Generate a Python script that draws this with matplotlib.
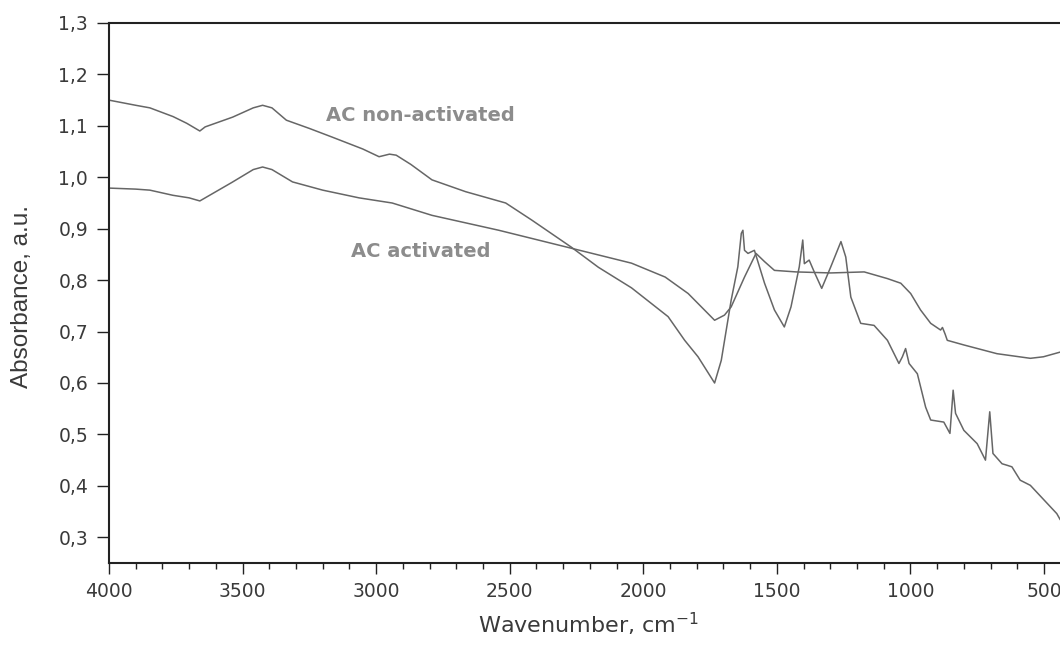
import numpy as np
import matplotlib
matplotlib.use("Agg")
import matplotlib.pyplot as plt
from matplotlib.ticker import MultipleLocator, FuncFormatter

# FTIR spectra of activated carbon, wavenumber (cm-1) vs absorbance (a.u.)
wn_nonact = [4000, 3900, 3847, 3760, 3709, 3660, 3640, 3537, 3460, 3425,
             3390, 3336, 3250, 3164, 3050, 2989, 2950, 2925, 2870, 2791,
             2665, 2515, 2418, 2269, 2168, 2044, 1907, 1845, 1795, 1733,
             1708, 1671, 1646, 1633, 1627, 1621, 1608, 1584, 1546, 1509,
             1472, 1447, 1416, 1403, 1397, 1379, 1360, 1332, 1298, 1260,
             1242, 1223, 1186, 1136, 1086, 1043, 1030, 1018, 1005, 974,
             943, 924, 875, 852, 840, 831, 800, 750, 719, 703,
             691, 657, 638, 620, 589, 551, 452, 440]
abs_nonact = [1.150, 1.140, 1.135, 1.118, 1.105, 1.090, 1.098, 1.117, 1.135, 1.140,
              1.135, 1.111, 1.095, 1.078, 1.055, 1.040, 1.045, 1.043, 1.025, 0.995,
              0.972, 0.950, 0.917, 0.864, 0.825, 0.785, 0.729, 0.683, 0.651, 0.600,
              0.644, 0.761, 0.826, 0.891, 0.897, 0.858, 0.852, 0.858, 0.794, 0.742,
              0.709, 0.748, 0.826, 0.878, 0.832, 0.839, 0.816, 0.784, 0.826, 0.875,
              0.845, 0.767, 0.716, 0.712, 0.683, 0.638, 0.651, 0.667, 0.638, 0.618,
              0.553, 0.528, 0.524, 0.502, 0.586, 0.541, 0.508, 0.482, 0.450, 0.544,
              0.463, 0.443, 0.440, 0.437, 0.411, 0.401, 0.346, 0.335]

wn_act = [4000, 3900, 3847, 3761, 3700, 3660, 3640, 3540, 3460, 3425,
          3390, 3313, 3200, 3064, 2940, 2791, 2541, 2269, 2168, 2044,
          1918, 1832, 1733, 1696, 1671, 1621, 1578, 1546, 1509, 1428,
          1298, 1173, 1086, 1036, 999, 962, 924, 887, 880, 870,
          862, 800, 676, 551, 502, 440]
abs_act = [0.979, 0.977, 0.975, 0.965, 0.960, 0.954, 0.960, 0.990, 1.015, 1.020,
           1.015, 0.991, 0.975, 0.960, 0.950, 0.926, 0.897, 0.862, 0.849, 0.833,
           0.806, 0.774, 0.722, 0.732, 0.748, 0.806, 0.852, 0.836, 0.819, 0.816,
           0.814, 0.816, 0.803, 0.794, 0.774, 0.742, 0.716, 0.703, 0.708, 0.695,
           0.683, 0.674, 0.657, 0.648, 0.651, 0.660]

labels = ["AC non-activated", "AC activated"]
label_pos = [(2836, 1.121), (2832, 0.855)]

line_color = "#666666"
text_color = "#3a3a3a"

fig = plt.figure(figsize=(10.6, 6.45), dpi=100)
ax = fig.add_axes([109 / 1060, 82 / 645, 951 / 1060, 540 / 645])

ax.plot(wn_nonact, abs_nonact, color=line_color, lw=1.1)
ax.plot(wn_act, abs_act, color=line_color, lw=1.1)

for txt, (x, y) in zip(labels, label_pos):
    ax.text(x, y, txt, ha="center", va="center", fontsize=14,
            fontweight="bold", color="#8c8c8c")

ax.set_xlim(4000, 440)
ax.set_ylim(0.25, 1.3)
ax.xaxis.set_major_locator(MultipleLocator(500))
ax.xaxis.set_minor_locator(MultipleLocator(100))
ax.yaxis.set_major_locator(MultipleLocator(0.1))
ax.yaxis.set_major_formatter(FuncFormatter(lambda v, p: f"{v:.1f}".replace(".", ",")))

ax.spines["right"].set_visible(False)
for s in ("left", "bottom", "top"):
    ax.spines[s].set_linewidth(1.5)
    ax.spines[s].set_color("#222222")

ax.tick_params(axis="both", which="major", direction="out", width=1.0,
               labelsize=13.5, labelcolor=text_color, color="#222222")
ax.tick_params(axis="x", which="major", length=8, pad=6)
ax.tick_params(axis="x", which="minor", length=4, width=1.0, color="#222222")
ax.tick_params(axis="y", which="major", length=9, pad=6)

ax.set_xlabel("Wavenumber, cm$^{-1}$", fontsize=16, color=text_color)
ax.xaxis.set_label_coords(0.504, -0.089)
ax.set_ylabel("Absorbance, a.u.", fontsize=17.5, color=text_color,
              family="Liberation Sans")
ax.yaxis.set_label_coords(-0.080, 0.494)

fig.savefig("out.png", dpi=100, facecolor="white")
